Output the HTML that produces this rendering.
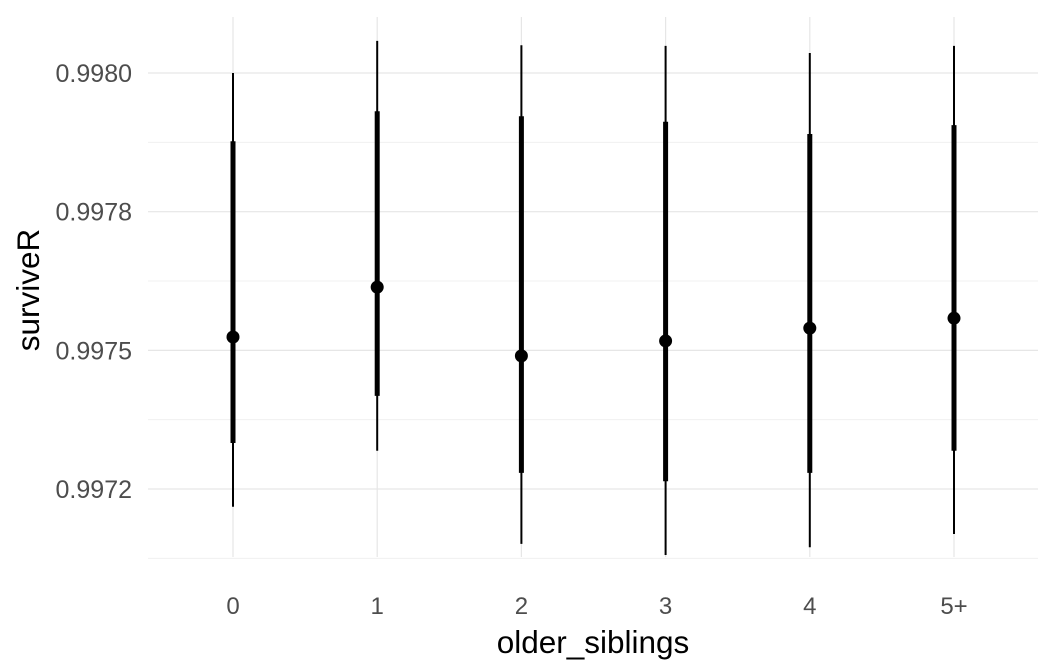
<!DOCTYPE html>
<html><head><meta charset="utf-8"><style>body{margin:0;background:#fff}svg{display:block;font-family:"Liberation Sans",sans-serif}</style></head>
<body>
<svg id="c" width="1056" height="672">
<g id="grid"></g><g id="marks"></g><g id="labels"></g>
<text x="593" y="653" text-anchor="middle" font-size="31.5" fill="#000">older_siblings</text>
<text transform="translate(39,290) rotate(-90)" text-anchor="middle" font-size="31.5" fill="#000">surviveR</text>
</svg>
<script>
const categories=["0","1","2","3","4","5+"];
const medians=[0.997524,0.997614,0.99749,0.997517,0.99754,0.997558];
const outerLow=[0.997218,0.997319,0.997151,0.997131,0.997145,0.997169];
const outerHigh=[0.998,0.998058,0.99805,0.998049,0.998036,0.998049];
const innerLow=[0.997333,0.997418,0.997279,0.997264,0.997279,0.997319];
const innerHigh=[0.997877,0.997931,0.997922,0.997912,0.99789,0.997906];
const yTicks=[0.998,0.99775,0.9975,0.99725];
const yTickLabels=["0.9980","0.9978","0.9975","0.9972"];
const NS="http://www.w3.org/2000/svg";
const y=v=>73+(0.998-v)*554680;
const x=i=>233+i*144.2;
function mk(p,t,a){const e=document.createElementNS(NS,t);for(const k in a)e.setAttribute(k,a[k]);document.getElementById(p).appendChild(e);return e;}
for(let i=0;i<yTicks.length;i++){
  const m=yTicks[i]-0.000125;
  const g=mk('grid','line',{x1:148,x2:1038,y1:y(m),y2:y(m),stroke:'#f0f0f0','stroke-width':1});
  
  
}
for(let i=0;i<yTicks.length;i++){
  const g=mk('grid','line',{x1:148,x2:1038,y1:y(yTicks[i]),y2:y(yTicks[i]),stroke:'#e6e6e6','stroke-width':1.2});
  
  
  const t=mk('labels','text',{x:132,y:y(yTicks[i])+9,'text-anchor':'end','font-size':25,fill:'#4d4d4d'});
  t.textContent=yTickLabels[i];
  
  
}
for(let i=0;i<categories.length;i++){
  const g=mk('grid','line',{x1:x(i),x2:x(i),y1:17,y2:557,stroke:'#e6e6e6','stroke-width':1.2});
  
  
  const t=mk('labels','text',{x:x(i),y:614,'text-anchor':'middle','font-size':24,fill:'#4d4d4d'});
  t.textContent=categories[i];
  
  
  const o=mk('marks','line',{x1:x(i),x2:x(i),y1:y(outerLow[i]),y2:y(outerHigh[i]),stroke:'#000','stroke-width':2});
  
  
  const n=mk('marks','line',{x1:x(i),x2:x(i),y1:y(innerLow[i]),y2:y(innerHigh[i]),stroke:'#000','stroke-width':5});
  
  
  const p=mk('marks','circle',{cx:x(i),cy:y(medians[i]),r:6.5,fill:'#000'});
  
  
}
</script>
</body></html>
